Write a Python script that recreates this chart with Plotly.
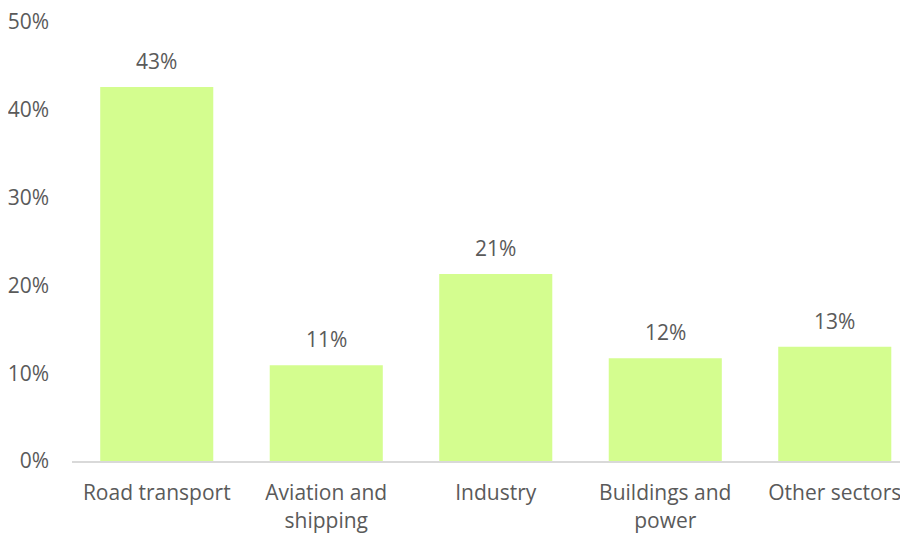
import plotly.graph_objects as go

categories = ["Road transport", "Aviation and<br>shipping", "Industry", "Buildings and<br>power", "Other sectors"]
values = [42.6, 10.9, 21.3, 11.7, 13.0]
labels = ["43%", "11%", "21%", "12%", "13%"]
y_ticks = [0, 10, 20, 30, 40, 50]
y_tick_text = ["0%", "10%", "20%", "30%", "40%", "50%"]

FONT = "Open Sans"
TXT = "#5a5a5a"
FS = 21

fig = go.Figure()
fig.add_trace(go.Bar(
    x=categories, y=values,
    marker=dict(color="#d4fd8f", line=dict(width=0)),
    width=0.667,
    hoverinfo="skip",
))

for c, v, t in zip(categories, values, labels):
    fig.add_annotation(x=c, y=v, text=t, showarrow=False, yanchor="bottom",
                       yshift=10, font=dict(family=FONT, size=FS, color=TXT))

fig.update_layout(
    width=900, height=525,
    margin=dict(l=64, r=0, t=14, b=72),
    paper_bgcolor="white", plot_bgcolor="white",
    showlegend=False,
    font=dict(family=FONT, size=FS, color=TXT),
    xaxis=dict(range=[-0.5, 4.432], showgrid=False, showline=True,
               linecolor="#d9d9d9", linewidth=2, ticks="", ticklabelstandoff=12,
               ticklabeloverflow="allow", automargin=False,
               tickfont=dict(family=FONT, size=FS, color=TXT)),
    yaxis=dict(range=[0, 50], tickvals=y_ticks, ticktext=y_tick_text,
               showgrid=False, zeroline=False, showline=False, ticks="",
               ticklabelstandoff=22, ticklabeloverflow="allow", automargin=False,
               tickfont=dict(family=FONT, size=FS, color=TXT)),
)

fig.write_html("out.html")
